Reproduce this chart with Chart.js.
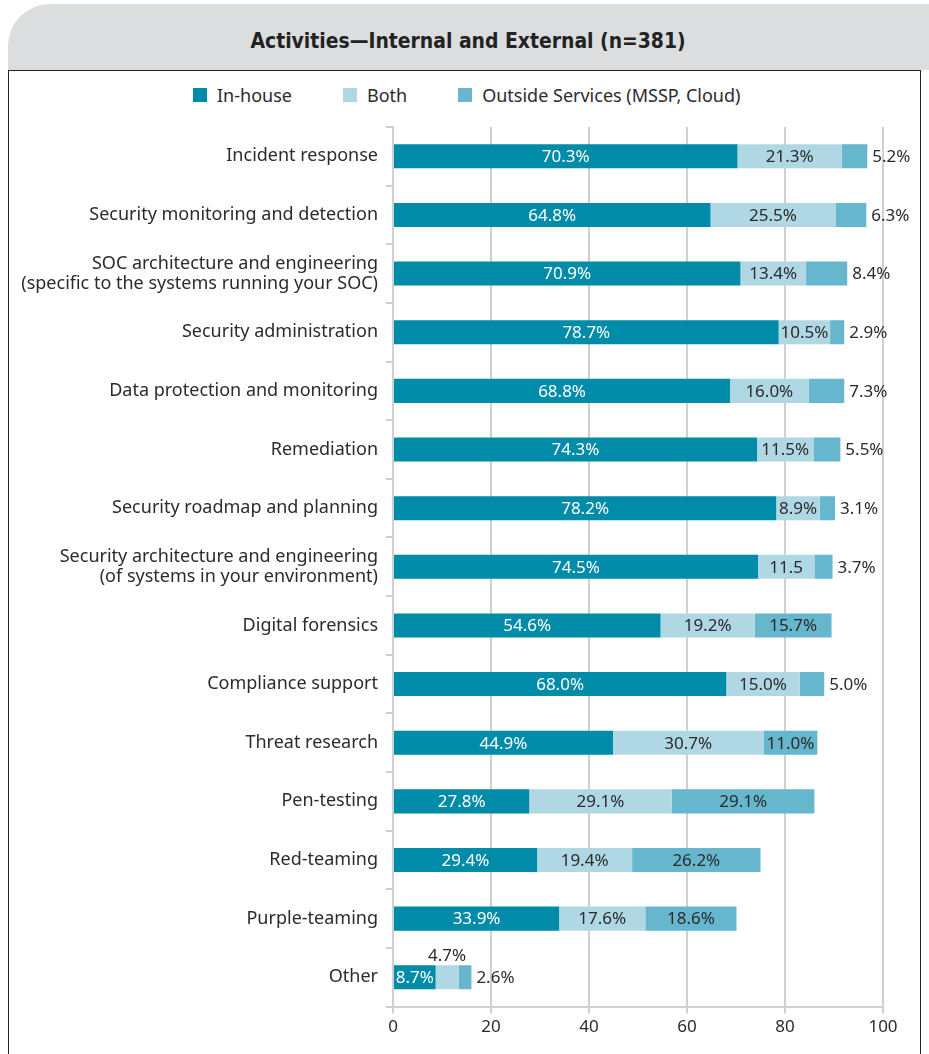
<!DOCTYPE html>
<html>
<head>
<meta charset="utf-8">
<script src="https://cdn.jsdelivr.net/npm/chart.js@4"></script>
<style>
  body { margin: 0; background: #fff; width: 929px; height: 1054px; overflow: hidden; }
  #band {
    position: absolute; left: 8px; top: 4px; width: 921px; height: 66px;
    background: #dcddde; border-top-left-radius: 42px;
    display: flex; align-items: center; justify-content: center;
    padding-top: 6px; box-sizing: border-box;
  }
  #band span {
    font-family: "Liberation Sans Narrow", "DejaVu Sans Condensed", sans-serif;
    font-weight: bold; font-size: 22px; color: #222;
    display: inline-block; transform: scaleX(0.95);
  }
  #box {
    position: absolute; left: 8px; top: 70px; width: 913px; height: 990px;
    border: 1px solid #222; box-sizing: border-box; background: #fff;
  }
  #legend {
    position: absolute; left: 193px; top: 84px; height: 22px;
    font-family: "Noto Sans", "DejaVu Sans", sans-serif; font-size: 18px; color: #2b2b2b;
    display: flex; align-items: center;
  }
  #legend .item { display: flex; align-items: center; }
  #legend .sw { width: 14px; height: 14px; margin-right: 10px; }
  #wrap { position: absolute; left: 9px; top: 71px; width: 911px; height: 983px; }
</style>
</head>
<body>
<div id="band"><span>Activities—Internal and External (n=381)</span></div>
<div id="box"></div>
<div id="legend"></div>
<div id="wrap"><canvas id="chart"></canvas></div>
<script>
// chart data
const categories = [
  "Incident response",
  "Security monitoring and detection",
  ["SOC architecture and engineering", "(specific to the systems running your SOC)"],
  "Security administration",
  "Data protection and monitoring",
  "Remediation",
  "Security roadmap and planning",
  ["Security architecture and engineering", "(of systems in your environment)"],
  "Digital forensics",
  "Compliance support",
  "Threat research",
  "Pen-testing",
  "Red-teaming",
  "Purple-teaming",
  "Other"
];
const seriesNames = ["In-house", "Both", "Outside Services (MSSP, Cloud)"];
const inHouse = [70.3, 64.8, 70.9, 78.7, 68.8, 74.3, 78.2, 74.5, 54.6, 68.0, 44.9, 27.8, 29.4, 33.9, 8.7];
const both = [21.3, 25.5, 13.4, 10.5, 16.0, 11.5, 8.9, 11.5, 19.2, 15.0, 30.7, 29.1, 19.4, 17.6, 4.7];
const outside = [5.2, 6.3, 8.4, 2.9, 7.3, 5.5, 3.1, 3.7, 15.7, 5.0, 11.0, 29.1, 26.2, 18.6, 2.6];
const xTicks = [0, 20, 40, 60, 80, 100];
// the source prints this one without a percent sign
const bothLabelOverride = { 7: "11.5" };

const colors = ["#008ba8", "#b0d8e4", "#66b6ce"];
const FONT = '"Noto Sans", "DejaVu Sans", sans-serif';
const DARK = "#2b2b2b";

// draws the value labels on / next to the bars
const valueLabels = {
  id: "valueLabels",
  afterDatasetsDraw(chart) {
    const ctx = chart.ctx;
    ctx.save();
    ctx.font = "17px " + FONT;
    ctx.textBaseline = "middle";
    chart.data.datasets.forEach((ds, di) => {
      const meta = chart.getDatasetMeta(di);
      meta.data.forEach((bar, i) => {
        const v = ds.data[i];
        let txt = v.toFixed(1) + "%";
        if (di === 1 && bothLabelOverride[i]) txt = bothLabelOverride[i];
        const left = Math.min(bar.x, bar.base), right = Math.max(bar.x, bar.base);
        const mid = (left + right) / 2;
        if (di === 0) {
          ctx.fillStyle = "#fff";
          ctx.textAlign = "center";
          ctx.fillText(txt, mid, bar.y + 1);
        } else if (di === 1) {
          ctx.fillStyle = DARK;
          ctx.textAlign = "center";
          if (v < 5) ctx.fillText(txt, mid, bar.y - 21);
          else ctx.fillText(txt, mid, bar.y + 1);
        } else {
          ctx.fillStyle = DARK;
          if (v >= 10) {
            ctx.textAlign = "center";
            ctx.fillText(txt, mid, bar.y + 1);
          } else {
            ctx.textAlign = "left";
            ctx.fillText(txt, right + 5, bar.y + 1);
          }
        }
      });
    });
    ctx.restore();
  }
};

const chart = new Chart(document.getElementById("chart"), {
  type: "bar",
  data: {
    labels: categories,
    datasets: [
      { label: seriesNames[0], data: inHouse, backgroundColor: colors[0] },
      { label: seriesNames[1], data: both, backgroundColor: colors[1] },
      { label: seriesNames[2], data: outside, backgroundColor: colors[2] }
    ]
  },
  options: {
    indexAxis: "y",
    responsive: true,
    maintainAspectRatio: false,
    animation: false,
    datasets: { bar: { barPercentage: 0.41, categoryPercentage: 1.0, borderWidth: 0 } },
    layout: { padding: { top: 56, right: 37, bottom: 14, left: 0 } },
    plugins: {
      tooltip: { enabled: false },
      legend: { display: false }
    },
    scales: {
      x: {
        stacked: true, min: 0, max: 100,
        afterBuildTicks: axis => { axis.ticks = xTicks.map(v => ({ value: v })); },
        grid: { color: "#d0d0d0", lineWidth: 2, tickLength: 7 },
        border: { color: "#d0d0d0", width: 2 },
        ticks: { color: DARK, font: { family: FONT, size: 17 }, padding: 3 }
      },
      y: {
        stacked: true,
        afterFit: axis => { axis.width = 384; },
        grid: { offset: true, drawOnChartArea: false, color: "#d0d0d0", lineWidth: 2, tickLength: 7 },
        border: { color: "#d0d0d0", width: 2 },
        ticks: { color: DARK, font: { family: FONT, size: 18, lineHeight: 1.1 }, padding: 8 }
      }
    }
  },
  plugins: [valueLabels]
});

// legend built from the chart's own datasets
const legend = document.getElementById("legend");
chart.data.datasets.forEach((ds, i) => {
  const item = document.createElement("div");
  item.className = "item";
  item.style.marginRight = i < 2 ? "51px" : "0";
  item.innerHTML = `<div class="sw" style="background:${ds.backgroundColor}"></div><span>${ds.label}</span>`;
  legend.appendChild(item);
});
</script>
</body>
</html>
